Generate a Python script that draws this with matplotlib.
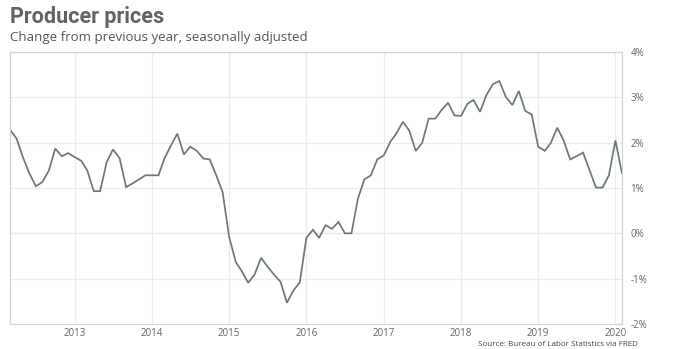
import numpy as np
import pandas as pd
import matplotlib
matplotlib.use("Agg")
import matplotlib.pyplot as plt
import matplotlib.dates as mdates
from matplotlib.ticker import FuncFormatter

# PPI final demand, % change from a year earlier, monthly Mar 2012 - Feb 2020
start = "2012-03-01"
ppi = [2.29, 2.09, 1.68, 1.32, 1.04, 1.13, 1.39, 1.87, 1.70, 1.77,
       1.68, 1.60, 1.39, 0.93, 0.93, 1.57, 1.85, 1.66, 1.02, 1.10,
       1.19, 1.28, 1.28, 1.28, 1.65, 1.94, 2.20, 1.74, 1.91, 1.82,
       1.65, 1.63, 1.28, 0.91, -0.08, -0.63, -0.83, -1.09, -0.91, -0.54,
       -0.73, -0.91, -1.07, -1.53, -1.26, -1.08, -0.10, 0.08, -0.10, 0.18,
       0.10, 0.25, 0.00, 0.00, 0.77, 1.19, 1.28, 1.63, 1.72, 2.02,
       2.20, 2.46, 2.27, 1.82, 1.99, 2.53, 2.53, 2.72, 2.88, 2.60,
       2.59, 2.86, 2.94, 2.68, 3.05, 3.29, 3.36, 3.01, 2.83, 3.14,
       2.70, 2.62, 1.91, 1.82, 1.99, 2.33, 2.05, 1.63, 1.70, 1.78,
       1.39, 1.01, 1.01, 1.28, 2.05, 1.32]
years = list(range(2013, 2021))
yticks = [-2, -1, 0, 1, 2, 3, 4]

dates = pd.date_range(start, periods=len(ppi), freq="MS")

fig = plt.figure(figsize=(6.8, 3.49), dpi=100)
ax = fig.add_axes([0.0147, 0.0716, 0.9, 0.7794])

ax.plot(dates, ppi, color="#6b7976", lw=1.25, solid_joinstyle="miter")

ax.set_xlim(dates[0], dates[-1])
ax.set_ylim(-2, 4)
ax.set_xticks([pd.Timestamp(f"{y}-01-01") for y in years])
ax.xaxis.set_major_formatter(mdates.DateFormatter("%Y"))
ax.set_yticks(yticks)
ax.yaxis.set_major_formatter(FuncFormatter(lambda v, p: f"{v:.0f}%"))
ax.yaxis.tick_right()

ax.grid(True, color="#ececec", lw=0.8)
ax.axhline(0, color="#dcdcdc", lw=0.9, zorder=1)
ax.tick_params(length=0, labelsize=7, labelcolor="#666666")
ax.tick_params(axis="y", pad=6)
ax.tick_params(axis="x", pad=3)
for lab in ax.get_xticklabels() + ax.get_yticklabels():
    lab.set_family("Open Sans")
for s in ax.spines.values():
    s.set_color("#d4d4d4")
    s.set_linewidth(0.9)

fig.text(0.0147, 0.952, "Producer prices", fontsize=15.5, fontweight="bold",
         family="Roboto", color="#5f6468", va="center")
fig.text(0.0147, 0.893, "Change from previous year, seasonally adjusted",
         fontsize=9.5, family="Open Sans", color="#555555", va="center")
fig.text(0.938, 0.004, "Source: Bureau of Labor Statistics via FRED",
         fontsize=5.8, family="Open Sans", color="#444444", ha="right", va="bottom")

fig.savefig("out.png", dpi=100, facecolor="white")
